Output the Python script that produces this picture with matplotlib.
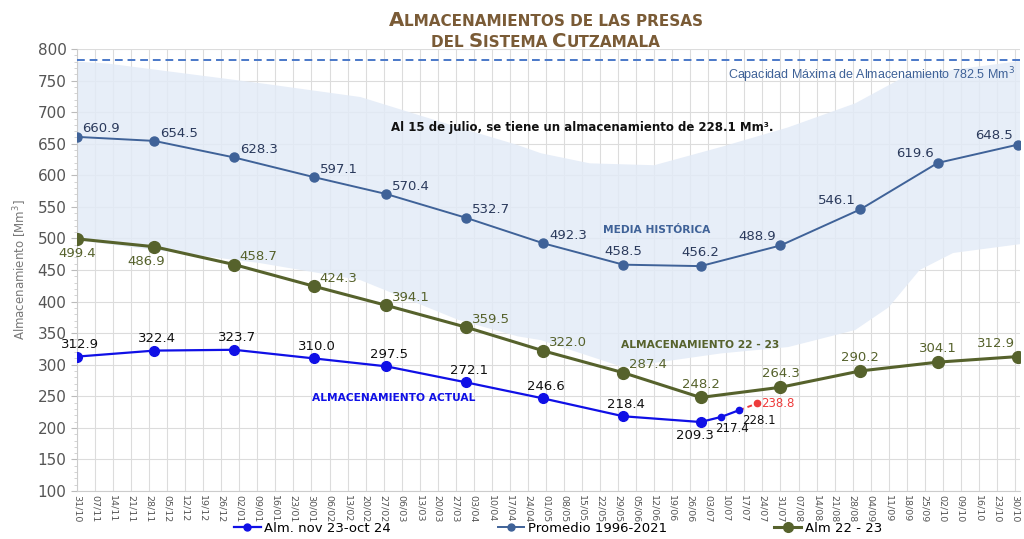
import pandas as pd
import matplotlib
matplotlib.use("Agg")
import matplotlib.pyplot as plt
import matplotlib.dates as mdates
from matplotlib.lines import Line2D
from matplotlib.ticker import MultipleLocator

# fechas de fin de mes (eje de referencia nov-oct)
month_ends = ['2022-10-31', '2022-11-30', '2022-12-31', '2023-01-31', '2023-02-28',
              '2023-03-31', '2023-04-30', '2023-05-31', '2023-06-30', '2023-07-31',
              '2023-08-31', '2023-09-30', '2023-10-31']

promedio = [660.9, 654.5, 628.3, 597.1, 570.4, 532.7, 492.3, 458.5, 456.2, 488.9, 546.1, 619.6, 648.5]
alm_22_23 = [499.4, 486.9, 458.7, 424.3, 394.1, 359.5, 322.0, 287.4, 248.2, 264.3, 290.2, 304.1, 312.9]

actual_dates = month_ends[:9] + ['2023-07-08', '2023-07-15']
actual = [312.9, 322.4, 323.7, 310.0, 297.5, 272.1, 246.6, 218.4, 209.3, 217.4, 228.1]

pronostico_dates = ['2023-07-15', '2023-07-22']
pronostico = [228.1, 238.8]

# banda de valores historicos (max / min)
band_top_dates = ['2022-10-31', '2022-11-12', '2023-01-10', '2023-02-18', '2023-03-28', '2023-04-20',
                  '2023-04-29', '2023-05-18', '2023-06-12', '2023-07-08', '2023-08-03', '2023-08-29',
                  '2023-09-17', '2023-10-06', '2023-11-01']
band_top = [780, 777, 746, 724, 676, 648, 635, 619, 616, 645, 676, 714, 756, 767, 781]
band_low_dates = ['2022-10-31', '2023-01-10', '2023-02-18', '2023-03-28', '2023-04-20', '2023-04-29',
                  '2023-05-31', '2023-07-08', '2023-08-03', '2023-08-29', '2023-09-11', '2023-09-23',
                  '2023-10-06', '2023-11-01']
band_low = [497, 461, 434, 371, 345, 339, 296, 318, 328, 355, 391, 450, 477, 491]

capacidad = 782.5

week_ticks = pd.date_range('2022-10-31', '2023-10-30', freq='7D')

C_PROM = '#3f6298'
C_ACT = '#1010e6'
C_OLIVE = '#56622c'
C_RED = '#ee3b3b'
C_TITLE = '#7a5b36'
C_BAND = '#e3ebf7'


def small_caps(fig, text, y, big=14.2, small=11, color=C_TITLE, xc=0.533):
    renderer = fig.canvas.get_renderer()
    runs = []
    for ch in text:
        size = big if ch.isupper() else small
        if runs and runs[-1][1] == size:
            runs[-1][0] += ch.upper()
        else:
            runs.append([ch.upper(), size])
    objs = []
    total = 0
    for s, size in runs:
        t = fig.text(0, y, s.replace(' ', '\u00a0'), fontsize=size, fontweight='bold',
                     color=color, va='baseline', ha='left', family='DejaVu Sans')
        w = t.get_window_extent(renderer).width
        objs.append((t, w))
        total += w
    x = xc * fig.bbox.width - total / 2
    for t, w in objs:
        t.set_x(x / fig.bbox.width)
        x += w


fig = plt.figure(figsize=(10.24, 5.39), dpi=100)
ax = fig.add_axes([0.0752, 0.089, 0.921, 0.82])

to_dt = pd.to_datetime

ax.fill(list(to_dt(band_top_dates)) + list(to_dt(band_low_dates))[::-1],
        band_top + band_low[::-1], color=C_BAND, alpha=0.85, lw=0, zorder=1)

ax.axhline(capacidad, color='#4a78c8', ls='--', lw=1.4, dashes=(4, 2.5), zorder=3)
ax.text(to_dt('2023-10-30'), capacidad - 8, 'Capacidad Máxima de Almacenamiento 782.5 Mm$^3$',
        ha='right', va='top', fontsize=9, color=C_PROM, family='Liberation Sans', zorder=5)

ax.plot(to_dt(month_ends), promedio, color=C_PROM, lw=1.4, marker='o', ms=6.5, zorder=4)
ax.plot(to_dt(month_ends), alm_22_23, color=C_OLIVE, lw=2.2, marker='o', ms=8.5, zorder=4)
ax.plot(to_dt(actual_dates), actual, color=C_ACT, lw=1.6, zorder=4)
ax.plot(to_dt(actual_dates[:9]), actual[:9], ls='none', color=C_ACT, marker='o', ms=7, zorder=5)
ax.plot(to_dt(actual_dates[9:]), actual[9:], ls='none', color=C_ACT, marker='o', ms=4.5, zorder=5)
ax.plot(to_dt(pronostico_dates), pronostico, color=C_RED, lw=1.4, ls='--', dashes=(2.5, 2), zorder=4)
ax.plot(to_dt(pronostico_dates[1:]), pronostico[1:], ls='none', color=C_RED, marker='o', ms=4.5, zorder=5)

# etiquetas de valores
pos = {'r': ((4, 1), 'left', 'bottom'), 'a': ((0, 5), 'center', 'bottom'),
       'b': ((0, -6), 'center', 'top'), 'l': ((-3, 2), 'right', 'bottom'),
       'al': ((-2, 5), 'right', 'bottom'), 'bl': ((-6, -6), 'center', 'top')}

prom_pos = ['r', 'r', 'r', 'r', 'r', 'r', 'r', 'a', 'a', 'l', 'l', 'l', 'l']
for d, v, p in zip(month_ends, promedio, prom_pos):
    off, ha, va = pos[p]
    ax.annotate(f'{v:.1f}', (to_dt(d), v), xytext=off, textcoords='offset points',
                ha=ha, va=va, fontsize=9.5, color='#2b3a5c', zorder=6)

olive_pos = ['b', 'bl', 'r', 'r', 'r', 'r', 'r', 'r', 'a', 'a', 'a', 'a', 'al']
for d, v, p in zip(month_ends, alm_22_23, olive_pos):
    off, ha, va = pos[p]
    ax.annotate(f'{v:.1f}', (to_dt(d), v), xytext=off, textcoords='offset points',
                ha=ha, va=va, fontsize=9.5, color=C_OLIVE, zorder=6)

act_pos = [((2, 4), 'center', 'bottom', 9.5)] * 8 + [((-4, -5), 'center', 'top', 9.5),
                                                     ((8, -4), 'center', 'top', 8.5),
                                                     ((2, -3), 'left', 'top', 8.5)]
for d, v, (off, ha, va, fs) in zip(actual_dates, actual, act_pos):
    ax.annotate(f'{v:.1f}', (to_dt(d), v), xytext=off, textcoords='offset points',
                ha=ha, va=va, fontsize=fs, color='#111111', zorder=6)

ax.annotate(f'{pronostico[1]:.1f}', (to_dt(pronostico_dates[1]), pronostico[1]), xytext=(3, 0),
            textcoords='offset points', ha='left', va='center', fontsize=8.5, color=C_RED, zorder=6)

# textos dentro del grafico
ax.text(to_dt('2023-05-15'), 676, 'Al 15 de julio, se tiene un almacenamiento de 228.1 Mm³.',
        ha='center', va='center', fontsize=8.5, fontweight='bold', color='#111111', zorder=6)
ax.text(to_dt('2023-06-13'), 514, 'MEDIA HISTÓRICA', ha='center', va='center',
        fontsize=7.7, fontweight='bold', color=C_PROM, zorder=6)
ax.text(to_dt('2023-06-30'), 331, 'ALMACENAMIENTO 22 - 23', ha='center', va='center',
        fontsize=7.7, fontweight='bold', color=C_OLIVE, zorder=6)
ax.text(to_dt('2023-03-03'), 247, 'ALMACENAMIENTO ACTUAL', ha='center', va='center',
        fontsize=7.7, fontweight='bold', color=C_ACT, zorder=6)

# ejes
ax.set_xlim(to_dt('2022-10-31'), to_dt('2023-11-01'))
ax.set_ylim(100, 800)
ax.set_xticks(week_ticks)
ax.xaxis.set_major_formatter(mdates.DateFormatter('%d/%m'))
ax.yaxis.set_major_locator(MultipleLocator(50))
ax.yaxis.set_minor_locator(MultipleLocator(10))
ax.tick_params(axis='x', labelsize=6.8, labelcolor='#555555', rotation=270, length=0, pad=3)
ax.tick_params(axis='y', which='major', labelsize=11, labelcolor='#555555', length=4, color='#bbbbbb')
ax.tick_params(axis='y', which='minor', length=2, color='#cccccc')
ax.grid(True, which='major', color='#dcdcdc', lw=0.8, zorder=0)
ax.set_axisbelow(True)
for s in ['top', 'right']:
    ax.spines[s].set_visible(False)
ax.spines['left'].set_color('#cccccc')
ax.spines['bottom'].set_color('#cccccc')
ax.set_ylabel('Almacenamiento [Mm$^3$]', fontsize=8.5, color='#777777', labelpad=6)

handles = [Line2D([], [], color=C_ACT, lw=1.6, marker='o', ms=5),
           Line2D([], [], color=C_PROM, lw=1.4, marker='o', ms=5),
           Line2D([], [], color=C_OLIVE, lw=2.2, marker='o', ms=7)]
fig.legend(handles, ['Alm. nov 23-oct 24', 'Promedio 1996-2021', 'Alm 22 - 23'],
           loc='center', bbox_to_anchor=(0.545, 0.02), ncol=3, frameon=False,
           fontsize=9.5, columnspacing=8.1, handlelength=2.0, handletextpad=0.3)

small_caps(fig, 'Almacenamientos de las presas', 1 - 26 / 539)
small_caps(fig, 'del Sistema Cutzamala', 1 - 47 / 539)

fig.savefig('out.png', dpi=100)
